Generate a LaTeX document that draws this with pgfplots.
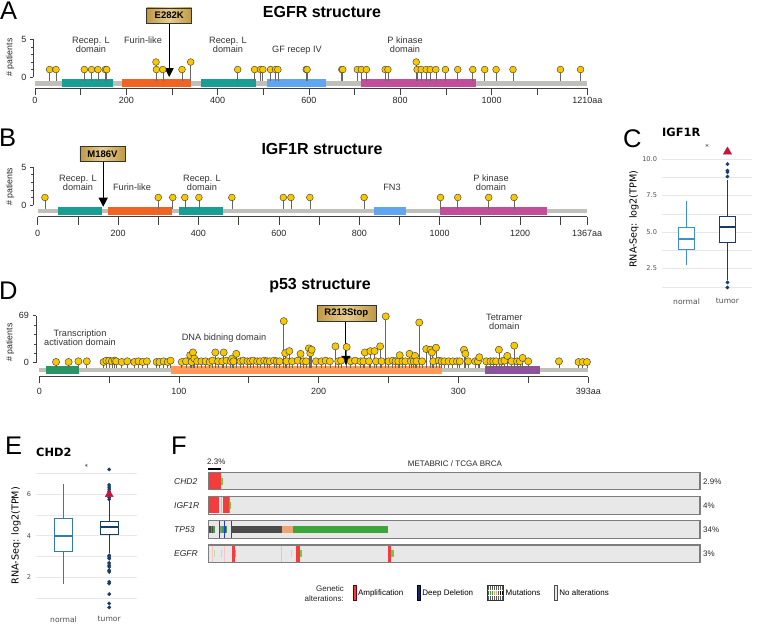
\documentclass[border=0pt]{standalone}
\usepackage{fontspec}
\setmainfont{Liberation Sans}
\newfontfamily\dejavu{DejaVu Sans}
\usepackage{pgfplots}
\pgfplotsset{compat=1.18}
\usepackage{pgfplotstable}
\usepgfplotslibrary{statistics}
\usetikzlibrary{arrows.meta}

\definecolor{gold}{RGB}{247,200,0}
\definecolor{bbone}{RGB}{192,192,186}
\definecolor{teal2}{RGB}{25,158,148}
\definecolor{furin}{RGB}{240,100,35}
\definecolor{gfblue}{RGB}{95,165,240}
\definecolor{pkin}{RGB}{192,78,152}
\definecolor{tadgreen}{RGB}{40,150,100}
\definecolor{dnaor}{RGB}{255,152,88}
\definecolor{tetra}{RGB}{140,82,158}
\definecolor{glight}{RGB}{232,205,140}
\definecolor{gdark}{RGB}{190,152,70}
\definecolor{nblue}{RGB}{60,145,205}
\definecolor{tnavy}{RGB}{22,60,105}
\definecolor{crim}{RGB}{200,20,60}
\definecolor{ggtext}{RGB}{77,77,77}
\definecolor{ggrid}{RGB}{232,232,232}
\definecolor{ampred}{RGB}{245,60,60}
\definecolor{delblue}{RGB}{40,60,215}
\definecolor{mutgray}{RGB}{75,75,75}
\definecolor{mutor}{RGB}{235,165,115}
\definecolor{mutgreen}{RGB}{60,165,60}
\definecolor{ltgreen}{RGB}{110,205,60}
\definecolor{trackbg}{RGB}{232,232,232}
\definecolor{trackbd}{RGB}{125,125,125}

\newcommand\fs[1]{\fontsize{#1}{#1}\selectfont}
\newcommand\rct[5]{\addplot[fill=#1, draw=none] coordinates {(#2,#4) (#3,#4) (#3,#5) (#2,#5)};}
\newcommand\vln[4]{\addplot[draw=#1, line width=0.7pt] coordinates {(#2,#3) (#2,#4)};}

\pgfplotstableread{
a n
32 1
46 1
108 1
124 1
138 1
154 1
157 1
265 2
266 1
280 1
322 1
341 2
444 1
481 1
494 1
499 1
516 1
527 1
532 1
594 1
596 1
672 1
674 1
706 1
715 1
726 1
767 1
773 1
835 2
837 1
846 1
857 1
866 1
878 1
899 1
926 1
959 1
985 1
1010 1
1047 1
1151 1
1195 1
}\egfr

\pgfplotstableread{
a n
18 1
300 1
336 1
366 1
401 1
483 1
611 1
630 1
677 1
812 1
1002 1
1045 1
1122 1
1185 1
}\igf

\pgfplotstableread{
a n
12 1
21 1
28 2
34 2
46 1
48 3
50 3
52 2
54 3
55 2
59 1
63 2
68 1
71 2
74 1
77 2
84 1
86 1
89 2
92 1
94 3
102 1
105 2
108 11
109 1
110 15
111 6
113 2
116 2
119 2
122 1
124 3
126 15
128 2
131 2
132 15
134 3
137 2
138 6
139 2
141 13
144 2
146 3
149 2
151 2
153 3
156 2
158 2
161 3
163 2
165 2
168 3
170 2
172 2
175 61
176 14
177 2
179 17
181 2
185 3
187 13
189 2
191 2
193 21
194 14
195 19
198 2
202 2
205 3
208 2
212 24
214 2
216 3
220 23
223 2
226 3
230 2
232 2
233 15
236 2
237 17
240 17
241 2
244 24
245 2
248 68
250 2
253 3
255 2
257 2
258 11
260 2
262 2
265 13
266 2
268 2
269 10
270 2
272 59
274 2
277 20
280 19
281 15
282 2
284 22
286 3
288 2
290 2
293 2
296 2
299 2
301 2
304 19
305 13
307 2
312 2
314 2
315 8
320 2
323 2
325 2
327 2
329 19
331 2
333 3
335 10
338 2
340 25
342 2
344 2
346 7
350 2
372 2
386 1
389 1
392 1
}\pft

\pgfplotsset{
  lolli/.style={scale only axis, anchor=south west, clip=false,
    axis y line=none, axis x line*=bottom, tick align=outside,
    x axis line style={black!75, line width=0.7pt},
    xtick style={black!75, line width=0.7pt},
    xticklabel style={font=\fs{9}, text=black!85},
    /pgf/number format/assume math mode=true},
  yax/.style={scale only axis, anchor=south west, width=10pt, xmin=0, xmax=1,
    axis x line=none, axis y line*=left, tick align=outside,
    y axis line style={black!75, line width=0.7pt},
    ytick style={black!75, line width=0.7pt},
    major tick length=3.5pt, minor tick length=2pt,
    yticklabel style={font=\fs{9}, text=black!85},
    /pgf/number format/assume math mode=true},
  stems/.style={only marks, mark=none, error bars/y dir=minus, error bars/y explicit,
    error bars/error mark=none, error bars/error bar style={black!60, line width=0.65pt}},
  heads/.style={only marks, mark=*, mark size=#1,
    mark options={fill=gold, draw=black!75, line width=0.45pt}},
  gg/.style={scale only axis, anchor=south west, clip=false,
    xmin=0.4, xmax=2.6, axis line style={draw=none}, tick style={draw=none},
    ymajorgrids, yminorgrids,
    major grid style={ggrid, line width=0.9pt}, minor grid style={ggrid, line width=0.45pt},
    xtick={1,2}, xticklabels={normal,tumor},
    xticklabel style={font=\dejavu\fs{7.6}, text=ggtext},
    yticklabel style={font=\dejavu\fs{6.6}, text=ggtext, xshift=-1.5pt},
    /pgf/number format/assume math mode=true,
    boxplot/draw direction=y,
    boxplot/box extend=0.4, boxplot/whisker extend=0,
    boxplot/every median/.style={line width=1.7pt}},
}

\tikzset{lbox/.style={shade, left color=gdark, right color=gdark, middle color=glight,
  draw=black!80, line width=0.6pt, inner sep=0pt, font=\fs{9.5}\bfseries}}

\begin{document}
\begin{tikzpicture}
\useasboundingbox (0,0) rectangle (784pt,624pt);

% ---------------- Panel A : EGFR ----------------
\node[anchor=base west, inner sep=0pt, font=\fs{25.5}] at (0pt,604pt) {A};
\node[anchor=base, inner sep=0pt, font=\fs{16}\bfseries] at (322pt,606.5pt) {EGFR structure};
\node[rotate=90, font=\fs{8.8}, text=black!85, inner sep=0pt] at (10pt,566.5pt) {\# patients};
\begin{axis}[yax, at={(33.3pt,547pt)}, height=37.5pt, ymin=0, ymax=5, ytick={0,5}, minor ytick={1,2,3,4}]
\addplot[draw=none] coordinates {(0,0)};
\end{axis}
\begin{axis}[lolli, at={(35pt,535.7pt)}, width=552.4pt, height=48.8pt,
  xmin=0, xmax=1210, ymin=-1.5, ymax=5,
  xtick={0,200,400,600,800,1000,1210}, xticklabels={0,200,400,600,800,1000,1210aa},
  minor xtick={100,300,500,700,900,1100}, major tick length=6.7pt, minor tick length=6.7pt,
  xticklabel style={yshift=1pt}]
\rct{bbone}{0}{1210}{-0.53}{-1.16}
\rct{teal2}{60}{170}{-0.31}{-1.37}
\rct{furin}{190}{342}{-0.31}{-1.37}
\rct{teal2}{364}{483}{-0.31}{-1.37}
\rct{gfblue}{508}{637}{-0.31}{-1.37}
\rct{pkin}{715}{967}{-0.31}{-1.37}
\addplot[stems] table[x=a, y=n, y error expr=\thisrow{n}+0.53] {\egfr};
\addplot[heads=3.4pt] table[x=a, y=n] {\egfr};
\draw[black, line width=1pt, -{Triangle[length=9pt, width=9pt]}] (axis cs:294,7.2) -- (axis cs:294,0);
\node[lbox, minimum width=45pt, minimum height=15pt] at (axis cs:294,8.2) {E282K};
\end{axis}
\begin{scope}[every node/.style={font=\fs{9.2}, text=black!80, anchor=base, inner sep=0pt}]
\node at (91pt,580.7pt) {Recep. L}; \node at (91pt,571.7pt) {domain};
\node at (143pt,580.7pt) {Furin-like};
\node at (228pt,580.7pt) {Recep. L}; \node at (228pt,571.7pt) {domain};
\node at (297pt,571.7pt) {GF recep IV};
\node at (405pt,580.7pt) {P kinase}; \node at (405pt,571.7pt) {domain};
\end{scope}

% ---------------- Panel B : IGF1R ----------------
\node[anchor=base west, inner sep=0pt, font=\fs{25.5}] at (-1pt,477pt) {B};
\node[anchor=base, inner sep=0pt, font=\fs{16}\bfseries] at (322pt,469.5pt) {IGF1R structure};
\node[rotate=90, font=\fs{8.8}, text=black!85, inner sep=0pt] at (10pt,437.3pt) {\# patients};
\begin{axis}[yax, at={(33.3pt,419pt)}, height=37.7pt, ymin=0, ymax=5, ytick={0,5}, minor ytick={1,2,3,4}]
\addplot[draw=none] coordinates {(0,0)};
\end{axis}
\begin{axis}[lolli, at={(37.7pt,407.3pt)}, width=549.5pt, height=49.4pt,
  xmin=0, xmax=1367, ymin=-1.55, ymax=5,
  xtick={0,200,400,600,800,1000,1200,1367}, xticklabels={0,200,400,600,800,1000,1200,1367aa},
  minor xtick={100,300,500,700,900,1100,1300}, major tick length=8.3pt, minor tick length=8.3pt,
  xticklabel style={yshift=-2pt}]
\rct{bbone}{0}{1367}{-0.53}{-1.1}
\rct{teal2}{51}{159}{-0.23}{-1.33}
\rct{furin}{176}{333}{-0.23}{-1.33}
\rct{teal2}{351}{462}{-0.23}{-1.33}
\rct{gfblue}{837}{916}{-0.23}{-1.33}
\rct{pkin}{1000}{1266}{-0.23}{-1.33}
\addplot[stems] table[x=a, y=n, y error expr=\thisrow{n}+0.53] {\igf};
\addplot[heads=3.4pt] table[x=a, y=n] {\igf};
\draw[black, line width=1pt, -{Triangle[length=9pt, width=9pt]}] (axis cs:163,5.74) -- (axis cs:163,-0.23);
\node[lbox, minimum width=45pt, minimum height=15pt] at (axis cs:161,6.74) {M186V};
\end{axis}
\begin{scope}[every node/.style={font=\fs{9.2}, text=black!80, anchor=base, inner sep=0pt}]
\node at (78pt,442.3pt) {Recep. L}; \node at (78pt,433.3pt) {domain};
\node at (132pt,433.3pt) {Furin-like};
\node at (202pt,442.3pt) {Recep. L}; \node at (202pt,433.3pt) {domain};
\node at (392pt,433.3pt) {FN3};
\node at (491pt,442.3pt) {P kinase}; \node at (491pt,433.3pt) {domain};
\end{scope}

% ---------------- Panel D : p53 ----------------
\node[anchor=base west, inner sep=0pt, font=\fs{25.5}] at (-1pt,324pt) {D};
\node[anchor=base, inner sep=0pt, font=\fs{16}\bfseries] at (320pt,334.5pt) {p53 structure};
\node[rotate=90, font=\fs{8.8}, text=black!85, inner sep=0pt] at (10pt,281.5pt) {\# patients};
\begin{axis}[yax, at={(36pt,261.3pt)}, height=47pt, ymin=0, ymax=69, ytick={0,69}, minor ytick={13.8,27.6,41.4,55.2}]
\addplot[draw=none] coordinates {(0,0)};
\end{axis}
\begin{axis}[lolli, at={(39.3pt,247.3pt)}, width=549pt, height=61pt,
  xmin=0, xmax=393, ymin=-20.6, ymax=69,
  xtick={0,100,200,300,393}, xticklabels={0,100,200,300,393aa},
  minor xtick={50,150,250,350}, major tick length=6.7pt, minor tick length=6.7pt,
  xticklabel style={yshift=-1pt}]
\rct{bbone}{0}{393}{-7.8}{-13.7}
\rct{tadgreen}{5}{28.5}{-4.85}{-16.6}
\rct{dnaor}{94}{288}{-4.85}{-16.6}
\rct{tetra}{318.7}{358.5}{-4.85}{-16.6}
\addplot[stems] table[x=a, y=n, y error expr=\thisrow{n}+7.8] {\pft};
\addplot[heads=3.6pt] table[x=a, y=n] {\pft};
\draw[black, line width=1pt, -{Triangle[length=9pt, width=9pt]}] (axis cs:219.5,60.2) -- (axis cs:219.5,-3.4);
\node[lbox, minimum width=59pt, minimum height=16pt] at (axis cs:219.8,72) {R213Stop};
\end{axis}
\begin{scope}[every node/.style={font=\fs{9.2}, text=black!80, anchor=base, inner sep=0pt}]
\node at (80pt,287.5pt) {Transcription}; \node at (80pt,278.5pt) {activation domain};
\node at (224pt,283pt) {DNA bidning domain};
\node at (504.3pt,303pt) {Tetramer}; \node at (504.3pt,294pt) {domain};
\end{scope}

% ---------------- Panel C : IGF1R boxplot ----------------
\node[anchor=base west, inner sep=0pt, font=\fs{25.5}] at (623pt,476pt) {C};
\node[anchor=base west, inner sep=0pt, font=\dejavu\fs{11.4}\bfseries] at (662pt,487pt) {IGF1R};
\node[rotate=90, font=\dejavu\fs{9.6}, inner sep=0pt] at (634pt,404.8pt) {RNA-Seq: log2(TPM)};
\begin{axis}[gg, at={(662pt,329.2pt)}, width=90pt, height=153.3pt, ymin=0.7, ymax=11.2,
  ytick={2.5,5,7.5,10}, minor ytick={1.25,3.75,6.25,8.75},
  yticklabel style={/pgf/number format/fixed, /pgf/number format/fixed zerofill, /pgf/number format/precision=1}]
\addplot[nblue, line width=0.8pt, fill=white, boxplot prepared={draw position=1,
  lower whisker=2.74, lower quartile=3.84, median=4.5, upper quartile=5.32, upper whisker=7.14}] coordinates {};
\addplot[tnavy, line width=0.8pt, fill=white, boxplot prepared={draw position=2,
  lower whisker=1.71, lower quartile=4.3, median=5.36, upper quartile=6.05, upper whisker=8.56}] coordinates {};
\addplot[only marks, mark=*, mark size=1.7pt, tnavy] coordinates {(2,9.65) (2,9.2) (2,9.1) (2,8.8) (2,1.55) (2,1.2)};
\addplot[only marks, mark=triangle*, mark size=4.8pt, crim] coordinates {(2,10.5)};
\node[anchor=base, font=\dejavu\fs{7}, text=black!80, inner sep=0pt] at (axis cs:1.5,10.68) {*};
\end{axis}

% ---------------- Panel E : CHD2 boxplot ----------------
\node[anchor=base west, inner sep=0pt, font=\fs{25.5}] at (5pt,169pt) {E};
\node[anchor=base west, inner sep=0pt, font=\dejavu\fs{11.4}\bfseries] at (36pt,167pt) {CHD2};
\node[rotate=90, font=\dejavu\fs{9.6}, inner sep=0pt] at (16pt,88.2pt) {RNA-Seq: log2(TPM)};
\begin{axis}[gg, at={(36.1pt,9.35pt)}, width=100.5pt, height=151.45pt, ymin=0.2, ymax=7.5,
  ytick={2,4,6}, minor ytick={1,3,5,7}, xticklabel style={yshift=1.8pt}]
\addplot[nblue!85!black, line width=0.8pt, fill=white, boxplot prepared={draw position=1,
  lower whisker=1.66, lower quartile=3.25, median=4.0, upper quartile=4.84, upper whisker=6.5}] coordinates {};
\addplot[tnavy, line width=0.8pt, fill=white, boxplot prepared={draw position=2,
  lower whisker=3.16, lower quartile=4.09, median=4.44, upper quartile=4.68, upper whisker=5.72}] coordinates {};
\addplot[only marks, mark=*, mark size=1.7pt, tnavy] coordinates {(2,7.2) (2,6.45) (2,6.35) (2,6.25) (2,6.15) (2,5.85) (2,5.76)
  (2,3.06) (2,2.98) (2,2.9) (2,2.69) (2,2.58) (2,2.5) (2,2.34) (2,2.26) (2,1.78) (2,1.7) (2,1.19) (2,0.74) (2,0.55)};
\addplot[only marks, mark=triangle*, mark size=4.6pt, crim] coordinates {(2,6.0)};
\node[anchor=base, font=\dejavu\fs{7}, text=black!80, inner sep=0pt] at (axis cs:1.5,7.2) {*};
\end{axis}

% ---------------- Panel F : oncoprint ----------------
\node[anchor=base west, inner sep=0pt, font=\fs{25.5}] at (171pt,169pt) {F};
\node[anchor=base, inner sep=0pt, font=\fs{8}, text=black!85] at (455pt,157.5pt) {METABRIC / TCGA BRCA};
\node[anchor=base west, inner sep=0pt, font=\fs{8}, text=black!85] at (207pt,159pt) {2.3\%};
\begin{scope}[every node/.style={font=\fs{8.5}\itshape, text=black!85, anchor=base west, inner sep=0pt}]
\node at (174pt,139.8pt) {CHD2};
\node at (174pt,115.6pt) {IGF1R};
\node at (174pt,91.5pt) {TP53};
\node at (174pt,67.3pt) {EGFR};
\end{scope}
\begin{scope}[every node/.style={font=\fs{8}, text=black!85, anchor=base west, inner sep=0pt}]
\node at (703pt,139.8pt) {2.9\%};
\node at (703pt,115.6pt) {4\%};
\node at (703pt,91.5pt) {34\%};
\node at (703pt,67.3pt) {3\%};
\end{scope}
\node[anchor=east, align=right, font=\fontsize{8}{10}\selectfont, text=black!85, inner sep=0pt] at (344pt,30.7pt) {Genetic\\alterations:};
\begin{axis}[scale only axis, anchor=south west, at={(208.3pt,61.5pt)}, width=491.7pt, height=90.5pt,
  xmin=0, xmax=100, ymin=0, ymax=90.5, axis lines=none, clip=false,
  legend style={at={(0.2937,-0.337)}, anchor=west, draw=none, fill=none, inner sep=0pt,
    font=\fs{8}, legend columns=-1, /tikz/every even column/.append style={column sep=12pt}},
  legend cell align=left]
\addlegendimage{legend image code/.code={\draw[fill=ampred, draw=black!60!red, line width=0.5pt] (0pt,-7.3pt) rectangle (2.6pt,7.3pt);}}
\addlegendentry{Amplification}
\addlegendimage{legend image code/.code={\draw[fill=delblue!60!black, draw=black, line width=0.5pt] (0pt,-7.3pt) rectangle (2.6pt,7.3pt);}}
\addlegendentry{Deep Deletion}
\addlegendimage{legend image code/.code={
  \fill[black!65] (0pt,-7.3pt) rectangle (16pt,7.3pt);
  \fill[mutgreen] (2pt,-2.4pt) rectangle (6pt,2.4pt);
  \fill[mutor] (6pt,-2.4pt) rectangle (10pt,2.4pt);
  \fill[black] (12pt,-2.4pt) rectangle (16pt,2.4pt);
  \foreach \i in {2,4,...,14} {\draw[white, line width=0.4pt] (\i pt,-7.3pt) -- (\i pt,7.3pt);}
  \draw[white, line width=0.4pt] (0pt,-2.4pt) -- (16pt,-2.4pt) (0pt,2.4pt) -- (16pt,2.4pt);
  \draw[black!80, line width=0.5pt] (0pt,-7.3pt) rectangle (16pt,7.3pt);}}
\addlegendentry{Mutations}
\addlegendimage{legend image code/.code={\draw[fill=trackbg, draw=black!70, line width=0.5pt] (0pt,-7.3pt) rectangle (2.6pt,7.3pt);}}
\addlegendentry{No alterations}
% tracks
\addplot[fill=trackbg, draw=trackbd, line width=1.1pt] coordinates {(0,72.6) (100,72.6) (100,90.1) (0,90.1)} --cycle;
\addplot[fill=trackbg, draw=trackbd, line width=1.1pt] coordinates {(0,48.4) (100,48.4) (100,65.9) (0,65.9)} --cycle;
\addplot[fill=trackbg, draw=trackbd, line width=1.1pt] coordinates {(0,24.2) (100,24.2) (100,41.7) (0,41.7)} --cycle;
\addplot[fill=trackbg, draw=trackbd, line width=1.1pt] coordinates {(0,0) (100,0) (100,17.5) (0,17.5)} --cycle;
% 2.3% marker
\addplot[draw=black, line width=1.3pt] coordinates {(0,93.5) (2.6,93.5)};
% CHD2
\rct{ampred}{0.15}{2.6}{73.2}{89.5}
\rct{ltgreen}{2.6}{2.95}{77.9}{84.8}
% IGF1R
\rct{ampred}{0.15}{2.2}{49.0}{65.3}
\vln{black!25}{2.6}{49.0}{65.3}
\rct{ampred}{3.05}{4.2}{49.0}{65.3}
\rct{ltgreen}{4.2}{4.55}{53.7}{60.6}
\vln{delblue!60}{4.35}{49.0}{65.3}
% TP53
\rct{mutgray}{0.1}{0.5}{29.5}{36.4}
\rct{mutgreen}{0.5}{0.8}{29.5}{36.4}
\rct{mutgray}{0.8}{1.0}{29.5}{36.4}
\rct{mutgreen}{1.0}{1.4}{29.5}{36.4}
\rct{black!45}{2.38}{2.72}{29.5}{36.4}
\rct{mutgreen}{2.72}{3.2}{29.5}{36.4}
\rct{mutgray}{3.3}{3.6}{29.5}{36.4}
\rct{mutgreen}{3.6}{3.9}{29.5}{36.4}
\vln{delblue}{2.18}{24.8}{41.1}
\vln{delblue}{3.19}{24.8}{41.1}
\addplot[draw=delblue, line width=1.1pt] coordinates {(4.7,24.8) (4.7,41.1)};
\rct{mutgray}{4.82}{14.93}{29.5}{36.4}
\rct{mutor}{14.93}{17.3}{29.5}{36.4}
\rct{mutgreen}{17.3}{36.6}{29.5}{36.4}
% EGFR
\vln{ampred!30}{0.8}{0.6}{16.9}
\vln{ampred!30}{3.2}{0.6}{16.9}
\vln{ampred!35}{14.93}{0.6}{16.9}
\vln{ltgreen!50}{1.2}{5.3}{12.2}
\vln{ltgreen!50}{2.7}{5.3}{12.2}
\vln{ltgreen!50}{16.95}{5.3}{12.2}
\rct{ampred}{4.88}{5.37}{0.6}{16.9}
\rct{ltgreen}{5.37}{5.64}{5.3}{12.2}
\rct{ampred}{17.78}{18.65}{0.6}{16.9}
\rct{ltgreen}{18.65}{19.0}{5.3}{12.2}
\rct{ampred}{36.6}{37.1}{0.6}{16.9}
\rct{ltgreen}{37.1}{37.85}{5.3}{12.2}
\end{axis}
\end{tikzpicture}
\end{document}
